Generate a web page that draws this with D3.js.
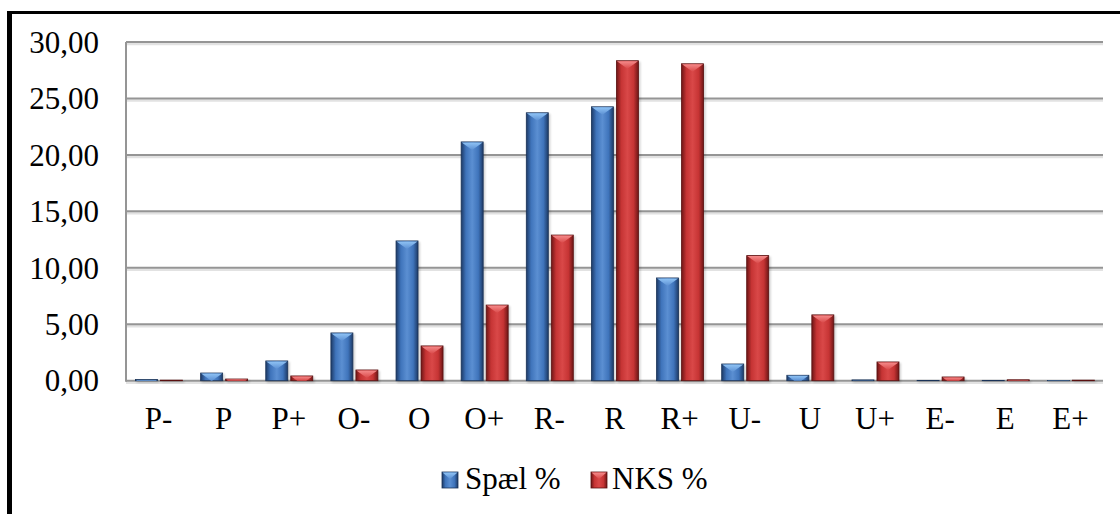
<!DOCTYPE html>
<html>
<head>
<meta charset="utf-8">
<script src="https://cdn.jsdelivr.net/npm/d3@7"></script>
<style>
  html, body { margin: 0; padding: 0; background: #fff; }
  svg { display: block; }
  text { font-family: "Liberation Serif", "Times New Roman", serif; fill: #000; }
</style>
</head>
<body>
<svg id="chart" width="1120" height="514"></svg>
<script>
// Grade categories along the x axis
const categories = ["P-", "P", "P+", "O-", "O", "O+", "R-", "R", "R+", "U-", "U", "U+", "E-", "E", "E+"];
// Share of each grade, in percent
const spaelValues = [0.10, 0.68, 1.75, 4.23, 12.38, 21.15, 23.73, 24.26, 9.10, 1.48, 0.48, 0.07, 0.03, 0.03, 0.02];
const nksValues   = [0.05, 0.15, 0.42, 0.95, 3.08, 6.70, 12.90, 28.34, 28.07, 11.08, 5.83, 1.66, 0.33, 0.08, 0.05];
const seriesNames = ["Spæl %", "NKS %"];
const yTicks = [0, 5, 10, 15, 20, 25, 30];

const svg = d3.select("#chart");
const W = 1120, H = 514;
const plot = { left: 126, right: 1103, top: 42, bottom: 380.7 };
const FONT = '"Liberation Serif", "Times New Roman", serif';

const palettes = [
  { dark: "#1d3a66", mid: "#3f74bb", light: "#5b8fd2", bevel: "#8fc3f5", edge: "#1a3358" },
  { dark: "#6e1616", mid: "#c63434", light: "#d94848", bevel: "#f58a8a", edge: "#5a1010" }
];

const defs = svg.append("defs");
palettes.forEach((p, i) => {
  const g = defs.append("linearGradient").attr("id", "body" + i)
    .attr("x1", 0).attr("x2", 1).attr("y1", 0).attr("y2", 0);
  g.append("stop").attr("offset", "0%").attr("stop-color", p.dark);
  g.append("stop").attr("offset", "22%").attr("stop-color", p.mid);
  g.append("stop").attr("offset", "50%").attr("stop-color", p.light);
  g.append("stop").attr("offset", "78%").attr("stop-color", p.mid);
  g.append("stop").attr("offset", "100%").attr("stop-color", p.dark);
  const b = defs.append("linearGradient").attr("id", "bevel" + i)
    .attr("x1", 0).attr("x2", 0).attr("y1", 0).attr("y2", 1);
  b.append("stop").attr("offset", "0%").attr("stop-color", p.bevel);
  b.append("stop").attr("offset", "100%").attr("stop-color", p.light);
});
const shadow = defs.append("filter").attr("id", "soft").attr("x", "-20%").attr("y", "-20%").attr("width", "140%").attr("height", "160%");
shadow.append("feGaussianBlur").attr("stdDeviation", 1.2);

// Outer frame
svg.append("rect").attr("x", 0).attr("y", 0).attr("width", W).attr("height", H).attr("fill", "#fff");
svg.append("line").attr("x1", 9.5).attr("x2", 9.5).attr("y1", 11).attr("y2", H)
  .attr("stroke", "#000").attr("stroke-width", 5);
svg.append("line").attr("x1", 7).attr("x2", W).attr("y1", 12.5).attr("y2", 12.5)
  .attr("stroke", "#000").attr("stroke-width", 3);

const y = d3.scaleLinear().domain([0, 30]).range([plot.bottom, plot.top]);
const x0 = d3.scaleBand().domain(categories).range([plot.left, plot.right]).padding(0);
const x1 = d3.scaleBand().domain(seriesNames).range([9.5, 56.5]).paddingInner(3 / 25).paddingOuter(0);

// Horizontal gridlines with a faint shadow
const grid = svg.append("g");
grid.selectAll("line.sh").data(yTicks).join("line")
  .attr("x1", plot.left).attr("x2", plot.right)
  .attr("y1", d => y(d) + 2).attr("y2", d => y(d) + 2)
  .attr("stroke", "#e2e2e2").attr("stroke-width", 2.5);
grid.selectAll("line.g").data(yTicks).join("line")
  .attr("x1", plot.left).attr("x2", plot.right)
  .attr("y1", d => y(d)).attr("y2", d => y(d))
  .attr("stroke", "#959595").attr("stroke-width", 2);
svg.append("line").attr("x1", plot.left).attr("x2", plot.left)
  .attr("y1", plot.top).attr("y2", plot.bottom + 1)
  .attr("stroke", "#959595").attr("stroke-width", 2);

// Y axis labels
const yAxis = d3.axisLeft(y).tickValues(yTicks)
  .tickFormat(d => d3.format(".2f")(d).replace(".", ","))
  .tickSize(0).tickPadding(27);
const ya = svg.append("g").attr("transform", `translate(${plot.left},0)`).call(yAxis);
ya.select(".domain").remove();
ya.attr("font-family", FONT).attr("font-size", 31);
ya.selectAll("text").attr("fill", "#000").attr("dy", "0.33em");

// X axis labels
const xAxis = d3.axisBottom(x0).tickSize(0).tickPadding(26);
const xa = svg.append("g").attr("transform", `translate(0,${plot.bottom})`).call(xAxis);
xa.select(".domain").remove();
xa.attr("font-family", FONT).attr("font-size", 31);
xa.selectAll("text").attr("fill", "#000").attr("dy", "0.71em");

// Bars
const rows = categories.map((c, i) => ({ cat: c, vals: [spaelValues[i], nksValues[i]] }));
const barsG = svg.append("g");
rows.forEach(r => {
  r.vals.forEach((v, si) => {
    const bx = x0(r.cat) + x1(seriesNames[si]);
    const bw = x1.bandwidth();
    const top = y(v);
    const h = plot.bottom - top;
    const p = palettes[si];
    // soft shadow
    barsG.append("rect").attr("x", bx + 1).attr("y", top + 1).attr("width", bw + 1).attr("height", h + 1)
      .attr("fill", "#000").attr("opacity", 0.18).attr("filter", "url(#soft)");
    barsG.append("rect").attr("x", bx).attr("y", top).attr("width", bw).attr("height", h)
      .attr("fill", `url(#body${si})`).attr("stroke", p.edge).attr("stroke-width", 0.8);
    // bevelled top
    const depth = 8;
    const d = Math.min(depth, h);
    const cx = bx + bw / 2;
    const half = (bw / 2) * (1 - d / depth);
    const pts = [[bx + 0.5, top + 0.5], [bx + bw - 0.5, top + 0.5], [cx + half, top + d], [cx - half, top + d]];
    barsG.append("polygon").attr("points", pts.map(q => q.join(",")).join(" "))
      .attr("fill", `url(#bevel${si})`);
  });
});

// Legend
const legend = svg.append("g").attr("font-family", FONT).attr("font-size", 31);
const legendItems = [
  { name: seriesNames[0], sx: 442, tx: 465 },
  { name: seriesNames[1], sx: 591, tx: 612 }
];
legendItems.forEach((it, i) => {
  const p = palettes[i];
  legend.append("rect").attr("x", it.sx).attr("y", 472).attr("width", 16).attr("height", 16)
    .attr("fill", `url(#body${i})`).attr("stroke", p.edge).attr("stroke-width", 0.8);
  legend.append("polygon")
    .attr("points", `${it.sx + 0.5},472.5 ${it.sx + 15.5},472.5 ${it.sx + 8},479`)
    .attr("fill", `url(#bevel${i})`);
  legend.append("text").attr("x", it.tx).attr("y", 489).text(it.name);
});
</script>
</body>
</html>
